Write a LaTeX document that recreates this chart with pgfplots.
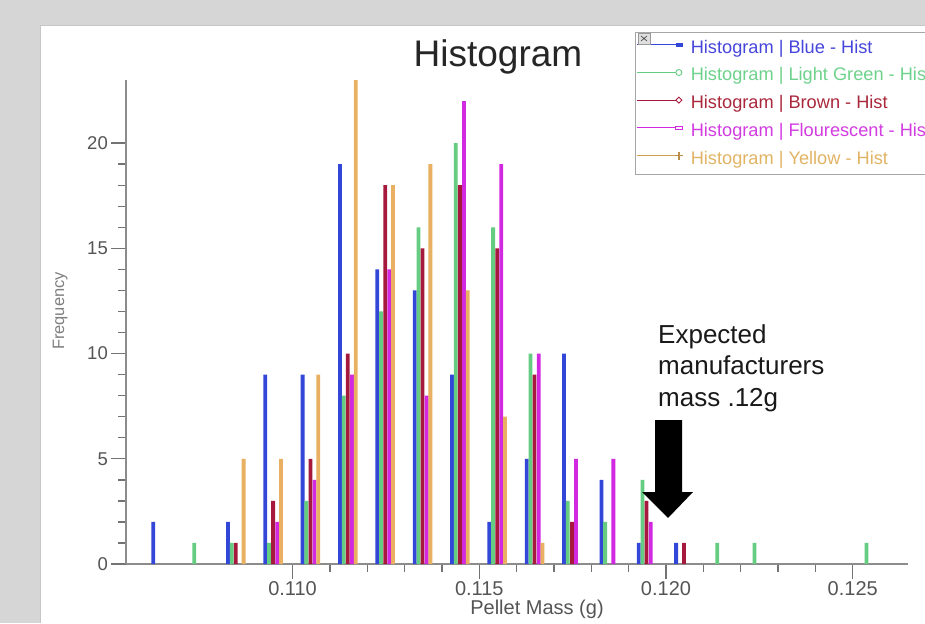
\documentclass[border=0pt]{standalone}
\usepackage{fontspec}
\setmainfont{Liberation Sans}
\usepackage{pgfplots}
\usepackage{pgfplotstable}
\pgfplotsset{compat=1.18}

\definecolor{bggray}{RGB}{214,214,214}
\definecolor{axgray}{RGB}{140,140,140}
\definecolor{tickgray}{RGB}{115,115,115}
\definecolor{tkgray}{RGB}{85,85,85}
\definecolor{cblue}{RGB}{50,70,215}
\definecolor{cgreen}{RGB}{100,205,130}
\definecolor{cbrown}{RGB}{165,25,60}
\definecolor{cfluor}{RGB}{210,40,225}
\definecolor{cyellow}{RGB}{232,176,96}
\definecolor{tblue}{RGB}{70,70,220}
\definecolor{tgreen}{RGB}{110,210,140}
\definecolor{tbrown}{RGB}{170,40,60}
\definecolor{tfluor}{RGB}{210,60,225}
\definecolor{tyellow}{RGB}{225,180,100}

% bins of 0.001 g, each series shifted a little inside the bin
\pgfplotstableread{
x y
0.10627 2
0.10827 2
0.10927 9
0.11027 9
0.11127 19
0.11227 14
0.11327 13
0.11427 9
0.11527 2
0.11627 5
0.11727 10
0.11827 4
0.11927 1
0.12027 1
}\tblblue
\pgfplotstableread{
x y
0.10737 1
0.10837 1
0.10937 1
0.11037 3
0.11137 8
0.11237 12
0.11337 16
0.11437 20
0.11537 16
0.11637 10
0.11737 3
0.11837 2
0.11937 4
0.12137 1
0.12237 1
0.12537 1
}\tblgreen
\pgfplotstableread{
x y
0.10848 1
0.10948 3
0.11048 5
0.11148 10
0.11248 18
0.11348 15
0.11448 18
0.11548 15
0.11648 9
0.11748 2
0.11948 3
0.12048 1
}\tblbrown
\pgfplotstableread{
x y
0.10959 2
0.11059 4
0.11159 9
0.11259 14
0.11359 8
0.11459 22
0.11559 19
0.11659 10
0.11759 5
0.11859 5
0.11959 2
}\tblfluor
\pgfplotstableread{
x y
0.10869 5
0.10969 5
0.11069 9
0.11169 23
0.11269 18
0.11369 19
0.11469 13
0.11569 7
0.11669 1
}\tblyellow

\begin{document}
\begin{tikzpicture}
\path[use as bounding box] (0pt,0pt) rectangle (925pt,-623pt);
\clip (0pt,0pt) rectangle (925pt,-623pt);
\fill[bggray] (0pt,0pt) rectangle (925pt,-623pt);
\fill[white] (40pt,-25pt) rectangle (925pt,-623pt);
\draw[gray!45] (40pt,-623pt) -- (40pt,-25pt) -- (925pt,-25pt);

\begin{axis}[
    at={(126pt,-564pt)}, anchor=south west,
    scale only axis, width=782pt, height=484pt,
    xmin=0.10554, xmax=0.12648, ymin=0, ymax=23,
    axis lines=left,
    axis line style={-, draw=axgray, line width=1.6pt},
    tick align=outside,
    tick style={draw=tickgray, line width=1.4pt},
    major tick length=15pt, minor tick length=8pt,
    xtick={0.110,0.115,0.120,0.125},
    xticklabels={0.110,0.115,0.120,0.125},
    minor x tick num=4,
    ytick={0,5,10,15,20},
    minor y tick num=4,
    scaled x ticks=false,
    /pgf/number format/assume math mode=true,
    x tick label style={font=\fontsize{20}{20}\selectfont, text=tkgray, inner sep=1pt, yshift=-1pt},
    y tick label style={font=\fontsize{18.5}{18.5}\selectfont, text=tkgray, inner sep=1pt, xshift=-2pt},
    legend cell align=left,
    legend style={at={(axis description cs:0.651,1.099)}, anchor=north west,
        draw=gray!70, fill=white, inner xsep=1pt, inner ysep=7pt,
        font=\fontsize{18.2}{20}\selectfont, row sep=10.7pt,
        nodes={inner sep=0pt, text height=14pt, text depth=3pt},
        /tikz/every odd column/.style={column sep=7pt}},
]
\addplot[ybar, bar width=3.8pt, bar shift=0pt, fill=cblue, draw=none,
    legend image code/.code={
        \draw[cblue, line width=1.2pt] (0pt,3pt) -- (42pt,3pt);
        \fill[cblue] (39pt,1pt) rectangle (46pt,5pt);}] table[x=x,y=y] {\tblblue};
\addlegendentry{\textcolor{tblue}{Histogram | Blue - Hist}}
\addplot[ybar, bar width=3.8pt, bar shift=0pt, fill=cgreen, draw=none,
    legend image code/.code={
        \draw[cgreen, line width=1pt] (0pt,3pt) -- (39pt,3pt);
        \draw[cgreen, line width=0.9pt, fill=white] (42pt,3pt) circle (3pt);}] table[x=x,y=y] {\tblgreen};
\addlegendentry{\textcolor{tgreen}{Histogram | Light Green - Hist}}
\addplot[ybar, bar width=3.8pt, bar shift=0pt, fill=cbrown, draw=none,
    legend image code/.code={
        \draw[cbrown, line width=1pt] (0pt,3pt) -- (39pt,3pt);
        \draw[cbrown, line width=0.9pt, fill=white] (39pt,3pt) -- (42pt,6pt) -- (45pt,3pt) -- (42pt,0pt) -- cycle;}] table[x=x,y=y] {\tblbrown};
\addlegendentry{\textcolor{tbrown}{Histogram | Brown - Hist}}
\addplot[ybar, bar width=3.8pt, bar shift=0pt, fill=cfluor, draw=none,
    legend image code/.code={
        \draw[cfluor, line width=1pt] (0pt,3pt) -- (39pt,3pt);
        \draw[cfluor, line width=0.9pt, fill=white] (39pt,1.2pt) rectangle (46pt,4.8pt);}] table[x=x,y=y] {\tblfluor};
\addlegendentry{\textcolor{tfluor}{Histogram | Flourescent - Hist}}
\addplot[ybar, bar width=3.8pt, bar shift=0pt, fill=cyellow, draw=none,
    legend image code/.code={
        \draw[cyellow!90!black, line width=1pt] (0pt,3pt) -- (42pt,3pt);
        \draw[cyellow!80!black, line width=1.8pt] (38pt,3pt) -- (46pt,3pt) (42pt,-1pt) -- (42pt,7pt);}] table[x=x,y=y] {\tblyellow};
\addlegendentry{\textcolor{tyellow}{Histogram | Yellow - Hist}}
\end{axis}

\begin{scope}[x=1pt,y=-1pt]
\node[anchor=base, inner sep=0pt, text=black!85, font=\fontsize{37}{37}\selectfont] at (498,66.7) {Histogram};
\node[anchor=base, inner sep=0pt, text=tkgray, font=\fontsize{20}{20}\selectfont] at (537,614) {Pellet Mass (g)};
\node[anchor=base, rotate=90, inner sep=0pt, text=gray, font=\fontsize{16.5}{16.5}\selectfont] at (64,311) {Frequency};
\node[anchor=base west, inner sep=0pt, text=black!90, font=\fontsize{26}{26}\selectfont] at (658,343) {Expected};
\node[anchor=base west, inner sep=0pt, text=black!90, font=\fontsize{26}{26}\selectfont] at (658,374.5) {manufacturers};
\node[anchor=base west, inner sep=0pt, text=black!90, font=\fontsize{26}{26}\selectfont] at (658,406) {mass .12g};
\fill[black] (655,420) -- (682,420) -- (682,492) -- (693,492) -- (668,518) -- (642,492) -- (655,492) -- cycle;
% close box of the legend
\fill[gray!25] (638,33) rectangle (650,44);
\draw[gray!80, line width=0.6pt] (638,33) rectangle (650,44);
\draw[black!70, line width=0.7pt] (641,36) -- (647,41) (647,36) -- (641,41);
\end{scope}
\end{tikzpicture}
\end{document}
